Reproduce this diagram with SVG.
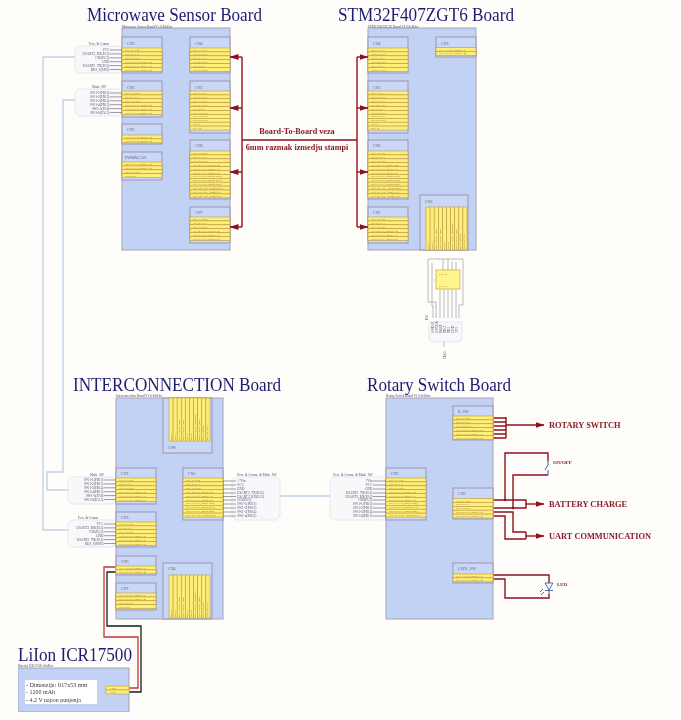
<svg xmlns="http://www.w3.org/2000/svg" xmlns:xlink="http://www.w3.org/1999/xlink" width="681" height="720" viewBox="0 0 681 720">
<style>
text{font-family:"Liberation Serif","Times New Roman",serif}
.title{fill:#1c1c72;font-size:18px}
.cap{fill:#4a4a66;font-size:3.2px}
.board{fill:#c2d2f5;stroke:#a8a3b8;stroke-width:1}
.comp{fill:#c9d8f6;stroke:#a093ac;stroke-width:1}
.cn{fill:#6a6478;font-size:4px}
.y{fill:#ffef78;stroke:#b8993f;stroke-width:.6}
.pt{fill:#8a6c30;font-size:2.9px}
.lab{fill:#55556a;font-size:3.4px}
.lt{stroke:#4a3a4a;stroke-width:.5;fill:none}
.bub{fill:#f8f8fb;stroke:#e4e7ef;stroke-width:1}
.bus{fill:none;stroke:#c2d1e8;stroke-width:1.4}
.w{fill:none;stroke:#8f1020;stroke-width:1.4}
.rl{fill:#8a1c2c;font-weight:bold;font-size:8.4px}
.sm{fill:#8a1c2c;font-weight:bold;font-size:5px}
.b2b{fill:#8a1c2c;font-weight:bold;font-size:8.2px;text-anchor:middle}
.ic{fill:none;stroke:#aaa6b0;stroke-width:.8}
.end{text-anchor:end}
</style>
<defs>
<marker id="a" markerWidth="9" markerHeight="7" refX="8.5" refY="3.5" orient="auto" markerUnits="userSpaceOnUse"><path d="M0 .5L9 3.500L0 6.500z" fill="#8f1020"/></marker>
<g id="r"><rect class="y" width="40" height="3.9"/></g>
<g id="p2"><use href="#r"/><use href="#r" y="3.9"/><text class="pt" x="3" y="3">PIN 1: CPU_port(PA3)</text><text class="pt" x="3" y="6.9">PIN 2: CPU_port(PA4)</text></g>
<g id="p4"><use href="#p2"/><use href="#r" y="7.8"/><use href="#r" y="11.7"/><text class="pt" x="3" y="10.8">PIN 3: GND</text><text class="pt" x="3" y="14.7">PIN 4: 5V</text></g>
<g id="p5"><use href="#r"/><use href="#r" y="3.9"/><use href="#r" y="7.8"/><use href="#r" y="11.7"/><use href="#r" y="15.6"/><text class="pt" x="3" y="3">PIN 1: 7Vin</text><text class="pt" x="3" y="6.9">PIN 2: 3V3</text><text class="pt" x="3" y="10.8">PIN 3: GND</text><text class="pt" x="3" y="14.7">PIN 4: CPU_port(PA2)</text><text class="pt" x="3" y="18.6">PIN 5: CPU_port(PA3)</text></g>
<g id="p6"><use href="#p5"/><use href="#r" y="19.5"/><text class="pt" x="3" y="22.5">PIN 6: CPU_port(PA8)</text></g>
<g id="p6b"><use href="#r"/><use href="#r" y="3.9"/><use href="#r" y="7.8"/><use href="#r" y="11.7"/><use href="#r" y="15.6"/><use href="#r" y="19.5"/><text class="pt" x="3" y="3">PIN 1: 3V3</text><text class="pt" x="3" y="6.9">PIN 2: GND</text><text class="pt" x="3" y="10.8">PIN 3: 3V3</text><text class="pt" x="3" y="14.7">PIN 4: GND</text><text class="pt" x="3" y="18.6">PIN 5: 5V</text><text class="pt" x="3" y="22.5">PIN 6: GND</text></g>
<g id="p10"><use href="#p6b"/><use href="#r" y="23.4"/><use href="#r" y="27.3"/><use href="#r" y="31.2"/><use href="#r" y="35.1"/><text class="pt" x="3" y="26.4">PIN 7: GND</text><text class="pt" x="3" y="30.3">PIN 8: GND</text><text class="pt" x="3" y="34.2">PIN 9</text><text class="pt" x="3" y="38.1">PIN 10</text></g>
<g id="p10c"><use href="#p6"/><use href="#r" y="23.4"/><use href="#r" y="27.3"/><use href="#r" y="31.2"/><use href="#r" y="35.1"/><text class="pt" x="3" y="26.4">PIN 7: CPU_port(PB12)</text><text class="pt" x="3" y="30.3">PIN 8: CPU_port(PB13)</text><text class="pt" x="3" y="34.2">PIN 9: CPU_port(PB14)</text><text class="pt" x="3" y="38.1">PIN 10: CPU_port(PB15)</text></g>
<g id="p12"><use href="#p10c"/><use href="#r" y="39"/><use href="#r" y="42.9"/><text class="pt" x="3" y="42">PIN 11: CPU_port(PC1)</text><text class="pt" x="3" y="45.9">PIN 12: CPU_port(PC2)</text></g>
<g id="bars">
<rect class="y" x="0" width="4.1" height="43"/><rect class="y" x="4.1" width="4.1" height="43"/><rect class="y" x="8.2" width="4.1" height="43"/><rect class="y" x="12.3" width="4.1" height="43"/><rect class="y" x="16.4" width="4.1" height="43"/><rect class="y" x="20.5" width="4.1" height="43"/><rect class="y" x="24.6" width="4.1" height="43"/><rect class="y" x="28.7" width="4.1" height="43"/><rect class="y" x="32.8" width="4.1" height="43"/><rect class="y" x="36.9" width="4.1" height="43"/>
<text class="pt" transform="translate(3 42) rotate(-90)">PIN 1</text><text class="pt" transform="translate(7 42) rotate(-90)">PIN 2</text><text class="pt" transform="translate(11 42) rotate(-90)">PIN 3: CPU_port</text><text class="pt" transform="translate(15 42) rotate(-90)">PIN 4: CPU_port</text><text class="pt" transform="translate(19 42) rotate(-90)">PIN 5</text><text class="pt" transform="translate(23 42) rotate(-90)">PIN 6</text><text class="pt" transform="translate(27 42) rotate(-90)">PIN 7: CPU_port(PE)</text><text class="pt" transform="translate(31 42) rotate(-90)">PIN 8: CPU_port</text><text class="pt" transform="translate(35 42) rotate(-90)">PIN 9: GND</text><text class="pt" transform="translate(39 42) rotate(-90)">PIN 10: 3V3</text>
</g>
<g id="lpc"><path class="lt" d="M-12 2H0M-12 5.9H0M-12 9.8H0M-12 13.7H0M-12 17.6H0M-12 21.5H0"/><g class="lab"><text class="end" x="-12.5" y="3">VCC</text><text class="end" x="-12.5" y="6.9">USART2_RX(PA3)</text><text class="end" x="-12.5" y="10.8">CE0(PG5)</text><text class="end" x="-12.5" y="14.7">GND</text><text class="end" x="-12.5" y="18.6">USART2_TX(PA2)</text><text class="end" x="-12.5" y="22.5">RES_S(SPI1)</text></g></g>
<g id="lsw"><path class="lt" d="M-12 2H0M-12 5.9H0M-12 9.8H0M-12 13.7H0M-12 17.6H0M-12 21.5H0"/><g class="lab"><text class="end" x="-12.5" y="3">SW1-1(PB12)</text><text class="end" x="-12.5" y="6.9">SW1-2(PB13)</text><text class="end" x="-12.5" y="10.8">SW1-3(PB14)</text><text class="end" x="-12.5" y="14.7">SW1-4(PB15)</text><text class="end" x="-12.5" y="18.6">SW1-5(PA8)</text><text class="end" x="-12.5" y="22.5">SW1-6(PA15)</text></g></g>
<filter id="soft" x="0" y="0" width="100%" height="100%"><feGaussianBlur stdDeviation="0.4"/></filter>
</defs>
<rect width="681" height="720" fill="#fffdf9"/>
<g filter="url(#soft)">

<g id="bubbles-top">
<rect class="bub" x="75" y="46" width="47" height="27" rx="5"/>
<rect class="bub" x="75" y="89" width="47" height="27" rx="5"/>
<text class="lab" x="99" y="44.5" text-anchor="middle">Pow. &amp; Comm</text>
<text class="lab" x="99" y="88" text-anchor="middle">Mark. SW</text>
</g>

<g id="microwave-board">
<rect class="board" x="122" y="28" width="108" height="222"/>
<text class="cap" x="122" y="27.800">Microwave Sensor Board V1.0.SchDoc</text>
<text class="title" x="87" y="21" textLength="175" lengthAdjust="spacingAndGlyphs">Microwave Sensor Board</text>
<g id="mw-cn3"><rect class="comp" x="122" y="37" width="40" height="36"/><text class="cn" x="127" y="45">CN3</text><use href="#p6" x="122" y="48"/><use href="#lpc" x="122" y="48"/></g>
<g id="mw-cn4"><rect class="comp" x="190" y="37" width="40" height="36"/><text class="cn" x="195" y="45">CN4</text><use href="#p6b" x="190" y="48"/></g>
<g id="mw-cn2"><rect class="comp" x="122" y="81" width="40" height="36"/><text class="cn" x="127" y="89">CN2</text><use href="#p6" x="122" y="91"/><use href="#lsw" x="122" y="91"/></g>
<g id="mw-cn5"><rect class="comp" x="190" y="81" width="40" height="52"/><text class="cn" x="195" y="89">CN5</text><use href="#p10" x="190" y="91"/></g>
<g id="mw-cn1"><rect class="comp" x="122" y="124" width="40" height="20"/><text class="cn" x="127" y="131">CN1</text><use href="#p2" x="122" y="135"/></g>
<g id="mw-pwm"><rect class="comp" x="122" y="152" width="40" height="28"/><text class="cn" x="125" y="159">PWM&amp;CAN</text><use href="#p4" x="122" y="162"/></g>
<g id="mw-cn6"><rect class="comp" x="190" y="140" width="40" height="59"/><text class="cn" x="195" y="147">CN6</text><use href="#p12" x="190" y="151"/></g>
<g id="mw-cn7"><rect class="comp" x="190" y="207" width="40" height="36"/><text class="cn" x="195" y="214">CN7</text><use href="#p6" x="190" y="217"/></g>
</g>

<g id="stm32-board">
<rect class="board" x="368" y="28" width="108" height="222"/>
<text class="cap" x="368" y="27.800">STM32F407ZGT6 Board V1.0.SchDoc</text>
<text class="title" x="338" y="21" textLength="176" lengthAdjust="spacingAndGlyphs">STM32F407ZGT6 Board</text>
<g id="st-cn4"><rect class="comp" x="368" y="37" width="40" height="36"/><text class="cn" x="373" y="45">CN4</text><use href="#p6b" x="368" y="48"/></g>
<g id="st-cn3"><rect class="comp" x="436" y="37" width="40" height="20"/><text class="cn" x="441" y="45">CN3</text><use href="#p2" x="436" y="47.5"/></g>
<g id="st-cn5"><rect class="comp" x="368" y="81" width="40" height="52"/><text class="cn" x="373" y="89">CN5</text><use href="#p10" x="368" y="91"/></g>
<g id="st-cn6"><rect class="comp" x="368" y="140" width="40" height="59"/><text class="cn" x="373" y="147">CN6</text><use href="#p12" x="368" y="151"/></g>
<g id="st-cn7"><rect class="comp" x="368" y="207" width="40" height="36"/><text class="cn" x="373" y="214">CN7</text><use href="#p6" x="368" y="217"/></g>
<g id="st-cn2"><rect class="comp" x="420" y="195" width="48" height="55"/><text class="cn" x="425" y="203">CN2</text><use href="#bars" x="426" y="207"/></g>
</g>

<g id="jtag-ic">
<path class="ic" d="M428 259H463V305M428 259V302H436V318M443 259V270M448 259V270M452 262V270M456 262V270M440 289V318M444 289V318M448 289V318M452 289V318M456 289V318M463 305H459V318M432 263V306H433V318"/>
<rect x="436" y="270" width="24" height="19" fill="#fff58c" stroke="#b7a85a" stroke-width=".7"/>
<text class="pt" transform="translate(435 282) rotate(-90)">U1</text>
<text class="pt" x="439" y="275">1 2 3 4</text>
<text class="pt" x="439" y="287">8 7 6 5</text>
<path d="M429 322V338Q429 342 434 342H458Q462 342 462 338V322Z" fill="#f8f8fb" stroke="#e4e7ef"/>
<path class="bus" d="M444 342V347"/>
<g class="lab">
<text transform="translate(428 320) rotate(-90)">P16</text>
<text transform="translate(434 333) rotate(-90)">SWDIO</text>
<text transform="translate(438 333) rotate(-90)">SWCLK</text>
<text transform="translate(442 333) rotate(-90)">NRST</text>
<text transform="translate(446 333) rotate(-90)">TDO</text>
<text transform="translate(450 333) rotate(-90)">TDI</text>
<text transform="translate(454 333) rotate(-90)">GND</text>
<text transform="translate(458 333) rotate(-90)">3V3</text>
<text transform="translate(445.5 359) rotate(-90)">JTAG</text>
</g>
</g>

<g id="connectors">
<path class="bus" d="M75 57H43V530H68"/>
<path class="bus" d="M75 100H63V472H47V490H68"/>
<path class="bus" d="M280 496H330"/>
<g class="w">
<path d="M242 57V227M357 57V227M242 140H357"/>
<path d="M242 57H230" marker-end="url(#a)"/><path d="M242 108H230" marker-end="url(#a)"/><path d="M242 172H230" marker-end="url(#a)"/><path d="M242 227H230" marker-end="url(#a)"/>
<path d="M357 57H368" marker-end="url(#a)"/><path d="M357 108H368" marker-end="url(#a)"/><path d="M357 172H368" marker-end="url(#a)"/><path d="M357 227H368" marker-end="url(#a)"/>
<path d="M493 418H506M493 422H506M493 426H506M493 430H506M493 434H506M493 438H506M506 417V438"/>
<path d="M506 425H544" marker-end="url(#a)"/>
<path d="M505 500V453H548V461"/><path d="M548 475H513V508"/>
<path d="M493 500H526V508H493"/>
<path d="M526 504H544" marker-end="url(#a)"/>
<path d="M493 512H513V532H526"/><path d="M493 516H505V539H526"/><path d="M526 532V539"/>
<path d="M526 536H544" marker-end="url(#a)"/>
<path d="M493 575H549V583M549 594V598H505V579H493"/>
</g>
<circle cx="505" cy="500" r="1.3" fill="#8f1020"/><circle cx="513" cy="508" r="1.3" fill="#8f1020"/>
<path d="M116 567H104V637H138V688H129" fill="none" stroke="#c8303c" stroke-width="1.300"/>
<path d="M116 572H107V626H141V692H129" fill="none" stroke="#162218" stroke-width="1.300"/>
</g>
<g id="b2b-label"><text class="b2b" x="297" y="134">Board-To-Board veza</text><text class="b2b" x="297" y="150">6mm razmak izmedju stampi</text></g>

<g id="interconnection-bubbles">
<rect class="bub" x="68" y="477" width="48" height="27" rx="5"/>
<rect class="bub" x="68" y="520" width="48" height="27" rx="5"/>
<rect class="bub" x="232" y="477" width="48" height="43" rx="5"/>
<rect class="bub" x="330" y="477" width="56" height="43" rx="5"/>
<text class="lab" x="97" y="475.5" text-anchor="middle">Mark. SW</text>
<text class="lab" x="88" y="519" text-anchor="middle">Pow. &amp; Comm</text>
<text class="lab" x="257" y="476" text-anchor="middle">Pow. &amp; Comm. &amp; Mark. SW</text>
<text class="lab" x="353" y="476" text-anchor="middle">Pow. &amp; Comm. &amp; Mark. SW</text>
</g>

<g id="interconnection-board">
<rect class="board" x="116" y="398" width="107" height="221"/>
<text class="cap" x="116" y="397">Interconnection Board V1.0.SchDoc</text>
<text class="title" x="73" y="391" textLength="208" lengthAdjust="spacingAndGlyphs">INTERCONNECTION Board</text>
<g id="ic-cn8"><rect class="comp" x="163" y="398" width="49" height="55"/><use href="#bars" x="169" y="398"/><text class="cn" x="168" y="449">CN8</text></g>
<g id="ic-cn2"><rect class="comp" x="116" y="468" width="40" height="36"/><text class="cn" x="121" y="475">CN2</text><use href="#p6" x="116" y="478"/><use href="#lsw" x="116" y="478"/></g>
<g id="ic-cn5"><rect class="comp" x="183" y="468" width="40" height="52"/><text class="cn" x="188" y="475">CN5</text><use href="#p10c" x="183" y="478"/>
<path class="lt" d="M223 481H236M223 485H236M223 489H236M223 493H236M223 496.500H236M223 500H236M223 504H236M223 508H236M223 512H236M223 516H236"/>
<g class="lab"><text x="237" y="482">+7Vin</text><text x="237" y="486">VCC</text><text x="237" y="490">GND</text><text x="237" y="494">USART2_TX(PA2)</text><text x="237" y="497.500">USART2_RX(PA3)</text><text x="237" y="501">CE0(PG5)</text><text x="237" y="505">SW1-1(PB12)</text><text x="237" y="509">SW1-2(PB13)</text><text x="237" y="513">SW1-3(PB14)</text><text x="237" y="517">SW1-4(PB15)</text></g></g>
<g id="ic-cn3"><rect class="comp" x="116" y="512" width="40" height="35"/><text class="cn" x="121" y="519">CN3</text><use href="#p6" x="116" y="522"/><use href="#lpc" x="116" y="522"/></g>
<g id="ic-cn6"><rect class="comp" x="116" y="556" width="40" height="19"/><text class="cn" x="121" y="563">CN6</text><use href="#p2" x="116" y="566"/></g>
<g id="ic-cn7"><rect class="comp" x="116" y="583" width="40" height="27"/><text class="cn" x="121" y="590">CN7</text><use href="#p4" x="116" y="593"/></g>
<g id="ic-cn4"><rect class="comp" x="163" y="563" width="49" height="56"/><text class="cn" x="168" y="570">CN4</text><use href="#bars" x="169" y="575"/></g>
</g>

<g id="rotary-board">
<rect class="board" x="386" y="398" width="107" height="221"/>
<text class="cap" x="386" y="397">Rotary Switch Board V1.0.SchDoc</text>
<text class="title" x="367" y="391" textLength="144" lengthAdjust="spacingAndGlyphs">Rotary Switch Board</text>
<g id="rs-cn2"><rect class="comp" x="386" y="468" width="40" height="52"/><text class="cn" x="391" y="475">CN2</text><use href="#p10c" x="386" y="478"/>
<path class="lt" d="M373 481H386M373 485H386M373 489H386M373 493H386M373 496.500H386M373 500H386M373 504H386M373 508H386M373 512H386M373 516H386"/>
<g class="lab"><text class="end" x="372.500" y="482">7Vin</text><text class="end" x="372.500" y="486">VCC</text><text class="end" x="372.500" y="490">GND</text><text class="end" x="372.500" y="494">USART2_TX(PA2)</text><text class="end" x="372.500" y="497.500">USART2_RX(PA3)</text><text class="end" x="372.500" y="501">CE0(PG5)</text><text class="end" x="372.500" y="505">SW1-1(PB12)</text><text class="end" x="372.500" y="509">SW1-2(PB13)</text><text class="end" x="372.500" y="513">SW1-3(PB14)</text><text class="end" x="372.500" y="517">SW1-4(PB15)</text></g></g>
<g id="rs-rsw"><rect class="comp" x="453" y="406" width="40" height="34"/><text class="cn" x="458" y="413">R_SW</text><use href="#p6" x="453" y="416"/></g>
<g id="rs-cn3"><rect class="comp" x="453" y="488" width="40" height="31"/><text class="cn" x="458" y="495">CN3</text><use href="#p5" x="453" y="498.500"/></g>
<g id="rs-led"><rect class="comp" x="453" y="563" width="40" height="20"/><text class="cn" x="458" y="570">LED1_SW</text><use href="#p2" x="453" y="574"/></g>
</g>

<g id="rotary-switch"><text class="rl" x="549" y="428">ROTARY SWITCH</text></g>
<g id="onoff-switch"><path d="M548 461V465L545 470M548 470V475" fill="none" stroke="#3f5aa8" stroke-width="1"/><text class="sm" x="553" y="463.500">ON/OFF</text></g>
<g id="battery-charge"><text class="rl" x="549" y="507">BATTERY CHARGE</text></g>
<g id="uart-communication"><text class="rl" x="549" y="539">UART COMMUNICATION</text></g>
<g id="led"><path d="M545 583H553L549 590ZM545 590.500H553M549 590V594M543 589L540 592M544 592L541 595" fill="none" stroke="#3f5aa8" stroke-width=".9"/><text class="sm" x="557" y="586">LED</text></g>

<g id="battery-board">
<text class="title" x="18" y="661" textLength="114" lengthAdjust="spacingAndGlyphs" style="font-size:19px">LiIon ICR17500</text>
<text class="cap" x="18" y="667">Baterija ICR17500.SchDoc</text>
<rect class="board" x="18" y="668" width="111" height="44"/>
<rect x="25" y="680" width="72" height="24" fill="#fff"/>
<g fill="#3a3a44"><text x="26" y="686.500" style="font-size:6px">- Dimenzije: fi17x53 mm</text><text x="26" y="694" style="font-size:6px">- 1200 mAh</text><text x="26" y="701.500" style="font-size:6px">- 4.2 V napon punjenja</text></g>
<rect class="y" x="106" y="686" width="23" height="4"/><rect class="y" x="106" y="690" width="23" height="4"/>
<text class="pt" x="110" y="689">7Vin</text><text class="pt" x="110" y="693">GND</text>
</g>
</g>
</svg>
